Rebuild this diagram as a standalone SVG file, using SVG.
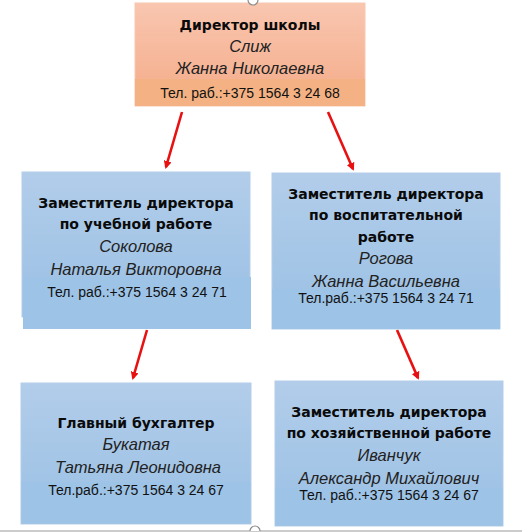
<svg xmlns="http://www.w3.org/2000/svg" width="522" height="532" viewBox="0 0 522 532">
<style>
.h{font-family:"DejaVu Sans",Verdana,sans-serif;font-weight:bold;font-size:14px;fill:#0a0a0a;text-anchor:middle}
.n{font-family:"Liberation Sans",Arial,sans-serif;font-style:italic;font-size:16.5px;fill:#222;text-anchor:middle}
.t{font-family:"Liberation Sans",Arial,sans-serif;font-size:14px;fill:#111;text-anchor:middle}
.blue{fill:url(#gb);stroke:#b4cde9;stroke-width:1}
.band{fill:#9dc3e6}
.arr{stroke:#e81010;stroke-width:2.6;fill:none;marker-end:url(#ah)}
</style>
<defs>
<linearGradient id="gb" x1="0" y1="0" x2="0" y2="1">
<stop offset="0" stop-color="#b2cdea"/>
<stop offset="1" stop-color="#9ac0e4"/>
</linearGradient>
<linearGradient id="go" x1="0" y1="0" x2="0" y2="1">
<stop offset="0" stop-color="#f9c6b0"/>
<stop offset="1" stop-color="#f4ab88"/>
</linearGradient>
<marker id="ah" markerWidth="8" markerHeight="8" refX="6" refY="4" orient="auto" markerUnits="userSpaceOnUse" viewBox="0 0 8 8">
<path d="M0,0 L8,4 L0,8 Z" fill="#e81010"/>
</marker>
</defs>
<rect width="522" height="532" fill="#fff"/>
<g id="connectors">
<line class="arr" x1="182" y1="112" x2="166" y2="167"/>
<line class="arr" x1="328" y1="112" x2="353" y2="169"/>
<line class="arr" x1="147" y1="330" x2="133" y2="378"/>
<line class="arr" x1="397" y1="330" x2="418" y2="378"/>
</g>
<g id="director">
<rect x="135" y="3" width="230" height="103" fill="url(#go)" stroke="#f8c8b0" stroke-width="1"/>
<rect x="135" y="79" width="230" height="27" fill="#f4b183"/>
<text class="h" x="250" y="30">Директор школы</text>
<text class="n" x="250" y="52">Слиж</text>
<text class="n" x="250" y="74">Жанна Николаевна</text>
<text class="t" x="250" y="98">Тел. раб.:+375 1564 3 24 68</text>
</g>
<g id="deputy-edu">
<rect class="blue" x="22" y="172" width="228" height="145"/>
<rect class="band" x="23" y="277" width="228" height="52"/>
<text class="h" x="136" y="208">Заместитель директора</text>
<text class="h" x="136" y="229">по учебной работе</text>
<text class="n" x="136" y="252">Соколова</text>
<text class="n" x="136" y="275">Наталья Викторовна</text>
<text class="t" x="137" y="297">Тел. раб.:+375 1564 3 24 71</text>
</g>
<g id="deputy-upbr">
<rect class="blue" x="272" y="173" width="228" height="156"/>
<rect class="band" x="272" y="289" width="228" height="40"/>
<text class="h" x="386" y="199">Заместитель директора</text>
<text class="h" x="386" y="220">по воспитательной</text>
<text class="h" x="386" y="242">работе</text>
<text class="n" x="386" y="264">Рогова</text>
<text class="n" x="386" y="287">Жанна Васильевна</text>
<text class="t" x="386" y="303">Тел.раб.:+375 1564 3 24 71</text>
</g>
<g id="accountant">
<rect class="blue" x="21" y="383" width="230" height="141"/>
<rect class="band" x="21.5" y="482" width="229" height="41.5"/>
<text class="h" x="136" y="428">Главный бухгалтер</text>
<text class="n" x="136" y="450">Букатая</text>
<text class="n" x="138" y="473">Татьяна Леонидовна</text>
<text class="t" x="136" y="495">Тел.раб.:+375 1564 3 24 67</text>
</g>
<g id="deputy-house">
<rect class="blue" x="275" y="381" width="228" height="145"/>
<rect class="band" x="275.5" y="488" width="227" height="37.5"/>
<text class="h" x="389" y="417">Заместитель директора</text>
<text class="h" x="389" y="438">по хозяйственной работе</text>
<text class="n" x="389" y="461">Иванчук</text>
<text class="n" x="389" y="484">Александр Михайлович</text>
<text class="t" x="389" y="500">Тел. раб.:+375 1564 3 24 67</text>
</g>
<line x1="0" y1="531" x2="522" y2="531" stroke="#9a9a9a" stroke-width="1.2"/>
<path d="M250,531 A5,5 0 0 1 260,531" fill="#fff" stroke="#8a8a8a" stroke-width="1.2"/>
<path d="M248,0 A5,5 0 0 0 258,0" fill="#fff" stroke="#8a8a8a" stroke-width="1.2"/>
</svg>
